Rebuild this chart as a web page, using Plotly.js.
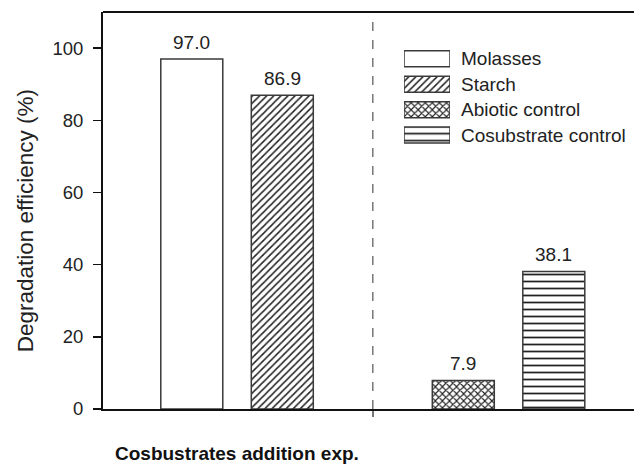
<!DOCTYPE html>
<html>
<head>
<meta charset="utf-8">
<script src="https://cdn.plot.ly/plotly-3.0.1.min.js"></script>
<style>html,body{margin:0;padding:0;background:#fff}#chart{width:634px;height:465px}</style>
</head>
<body>
<div id="chart"></div>
<script>
// ---- data ----
const seriesNames = ['Molasses', 'Starch', 'Abiotic control', 'Cosubstrate control'];
const seriesValues = [97.0, 86.9, 7.9, 38.1];
const valueLabels = ['97.0', '86.9', '7.9', '38.1'];
const groupSlots = ['Molasses', 'Starch', ' ', 'Abiotic control', 'Cosubstrate control'];
const yTickVals = [0, 20, 40, 60, 80, 100];
const yTitle = 'Degradation efficiency (%)';
const xTitle = 'Cosbustrates addition exp.';

// ---- styles ----
const patterns = [
  {shape: '', fgcolor: '#222', bgcolor: '#fff'},
  {shape: '/', size: 5, solidity: 0.3, fgcolor: '#222', bgcolor: '#fff', fillmode: 'replace'},
  {shape: 'x', size: 5, solidity: 0.4, fgcolor: '#222', bgcolor: '#fff', fillmode: 'replace'},
  {shape: '-', size: 7, solidity: 0.25, fgcolor: '#222', bgcolor: '#fff', fillmode: 'replace'}
];
const FONT = 'Liberation Sans, Arial, Helvetica, sans-serif';
const lineCol = '#3a3a3a';

const traces = seriesNames.map((n, i) => ({
  type: 'bar', x: [n], y: [seriesValues[i]], name: n, width: 0.685,
  marker: {color: '#fff', pattern: patterns[i], line: {color: lineCol, width: 1.5}},
  showlegend: false, hoverinfo: 'skip', xaxis: 'x', yaxis: 'y'
}));

// custom legend swatches (wide boxes) on an auxiliary axis
traces.push({
  type: 'bar', orientation: 'h', y: seriesNames, x: seriesNames.map(() => 1),
  width: 0.63, xaxis: 'x2', yaxis: 'y2', showlegend: false, hoverinfo: 'skip',
  marker: {
    color: '#fff',
    pattern: {
      shape: patterns.map(p => p.shape),
      size: patterns.map(p => p.size || 5),
      solidity: patterns.map(p => p.solidity || 0.3),
      fgcolor: '#222', bgcolor: '#fff', fillmode: 'replace'
    },
    line: {color: lineCol, width: 1.5}
  }
});

const annotations = seriesNames.map((n, i) => ({
  xref: 'x', yref: 'y', x: n, y: seriesValues[i], text: valueLabels[i],
  showarrow: false, yanchor: 'bottom', yshift: 4,
  font: {family: FONT, size: 19, color: '#222'}
}));
seriesNames.forEach(n => annotations.push({
  xref: 'x2', yref: 'y2', x: 1, y: n, text: n, showarrow: false,
  xanchor: 'left', xshift: 9, font: {family: FONT, size: 19, color: '#222'}
}));
annotations.push({
  xref: 'paper', yref: 'paper', x: -0.147, y: 0.475, text: yTitle, textangle: -90,
  showarrow: false, xanchor: 'center', yanchor: 'middle',
  font: {family: FONT, size: 22.5, color: '#222'}
});
annotations.push({
  xref: 'paper', yref: 'paper', x: 0.019, y: -0.112, text: '<b>' + xTitle + '</b>',
  showarrow: false, xanchor: 'left', yanchor: 'middle',
  font: {family: FONT, size: 19, color: '#111'}
});

const layout = {
  width: 634, height: 465,
  margin: {l: 103, r: 0, t: 12, b: 56},
  paper_bgcolor: '#fff', plot_bgcolor: '#fff',
  barmode: 'overlay',
  font: {family: FONT, size: 18, color: '#222'},
  xaxis: {
    type: 'category', categoryarray: groupSlots, categoryorder: 'array',
    range: [-0.981, 4.886], showgrid: false, zeroline: false,
    showline: true, linecolor: '#111', linewidth: 2,
    tickmode: 'array', tickvals: [' '], ticktext: [''],
    ticks: 'outside', ticklen: 6, tickwidth: 1.5, tickcolor: '#777',
    fixedrange: true
  },
  yaxis: {
    range: [0, 110], showgrid: false, zeroline: false,
    showline: true, linecolor: '#111', linewidth: 2,
    tickmode: 'array', tickvals: yTickVals,
    ticks: 'outside', ticklen: 8, tickwidth: 1.5, tickcolor: '#111',
    ticklabelstandoff: 6,
    tickfont: {family: FONT, size: 18.5, color: '#222'}, fixedrange: true
  },
  xaxis2: {domain: [0.5669, 0.6535], range: [0, 1], anchor: 'y2', visible: false, fixedrange: true},
  yaxis2: {domain: [0.658, 0.914], anchor: 'x2', visible: false, autorange: 'reversed',
           type: 'category', fixedrange: true},
  shapes: [
    {type: 'line', xref: 'paper', yref: 'paper', x0: 0, x1: 1, y0: 1, y1: 1,
     line: {color: '#111', width: 2}},
    {type: 'line', xref: 'x', yref: 'paper', x0: 2, x1: 2, y0: 0, y1: 1,
     line: {color: '#777', width: 1.5, dash: 'dash'}, layer: 'below'}
  ],
  annotations: annotations
};

Plotly.newPlot('chart', traces, layout, {displayModeBar: false, staticPlot: true});
</script>
</body>
</html>
